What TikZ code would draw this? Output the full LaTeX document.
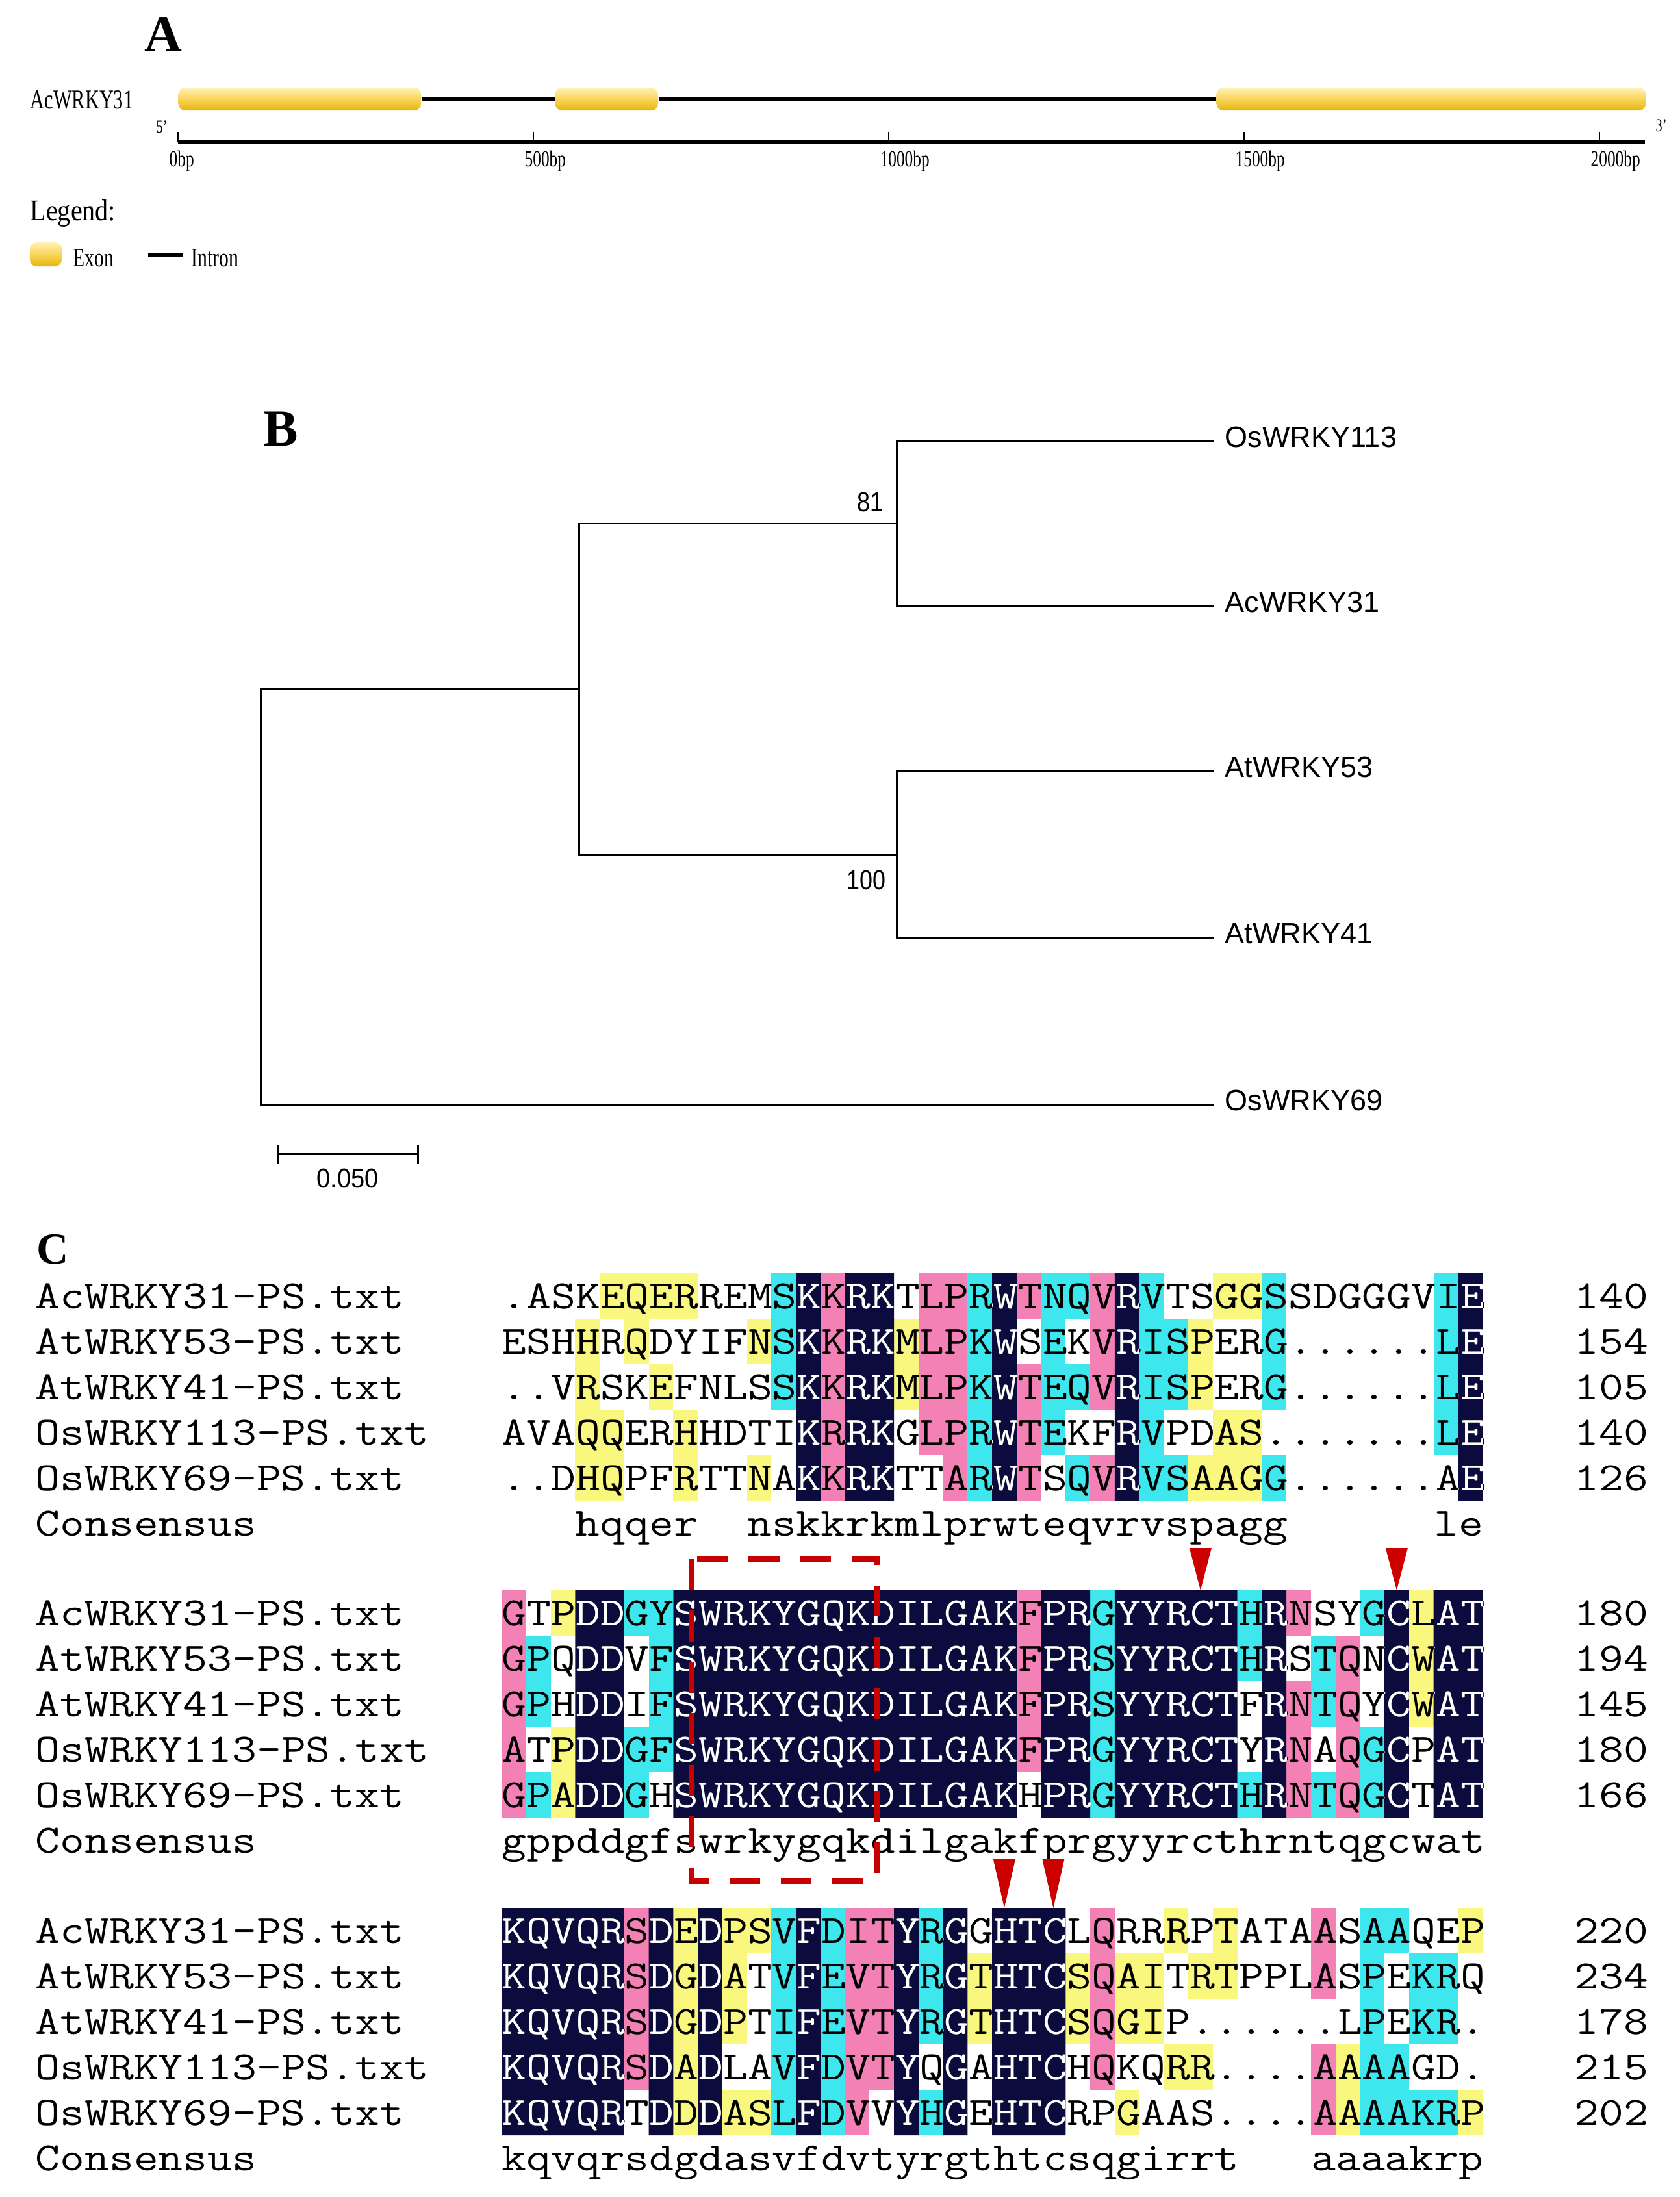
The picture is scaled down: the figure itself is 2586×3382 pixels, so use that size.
\documentclass[tikz,border=0pt]{standalone}
\usepackage{fontspec}
\setmainfont{Liberation Serif}
\setsansfont{Liberation Sans}
\usepackage{graphicx}
\usetikzlibrary{positioning}

\definecolor{navyc}{HTML}{0B0B3D}
\definecolor{pinkc}{HTML}{F481B6}
\definecolor{cyanc}{HTML}{3EE6EE}
\definecolor{yellowc}{HTML}{F9F77E}
\definecolor{exonhi}{HTML}{FFF1B8}
\definecolor{exonmid}{HTML}{FAD55A}
\definecolor{exonlo}{HTML}{E8B40C}
\definecolor{boxred}{HTML}{C80000}

\newcommand{\squeeze}[2][0.72]{\scalebox{#1}[1]{#2}}
\newcommand{\seqtext}[1]{\scalebox{1.187}[1]{#1}}
\newcommand{\cells}[2]{%
  \foreach \ca/\cb/\ra/\rb in {#2}
    \fill[#1] ({772+37.75*\ca},{\btop+70*\ra}) rectangle ({772+37.75*(\cb+1)},{\btop+70*(\rb+1)});}
\newcommand{\navyfill}[1]{%
  \fill[navyc] \foreach \ca/\cb in {#1} {({772+37.75*\ca},\btop) rectangle ({772+37.75*(\cb+1)},{\btop+350})};}
\newcommand{\navyclip}[1]{%
  \clip \foreach \ca/\cb in {#1} {({772+37.75*\ca},\btop) rectangle ({772+37.75*(\cb+1)},{\btop+350})};}
\newcommand{\seqrows}[2]{%
  \foreach \s [count=\k from 0] in {\rowa,\rowb,\rowc,\rowd,\rowe}
    \node[seq, text=#2] (#1\k) at (772,{\btop+54+70*\k}) {\seqtext{\s}};}
\newcommand{\rowlabels}[1]{%
  \foreach \n [count=\k from 0] in {AcWRKY31-PS.txt,AtWRKY53-PS.txt,AtWRKY41-PS.txt,OsWRKY113-PS.txt,OsWRKY69-PS.txt,Consensus}
    \node[seq] (#1\k) at (54,{\btop+54+70*\k}) {\seqtext{\n}};}

\begin{document}
\begin{tikzpicture}[x=0.01cm, y=-0.01cm,
  seq/.style={anchor=base west, inner sep=0pt, font=\fontsize{17.6}{20}\selectfont\ttfamily},
  panel/.style={anchor=base west, inner sep=0pt, font=\fontsize{22.8}{24}\selectfont\bfseries},
  glab/.style={anchor=base west, inner sep=0pt, font=\fontsize{10}{12}\selectfont},
  exon/.style={inner sep=0pt, minimum height=0.35cm, rounded corners=0.1cm, top color=exonhi, bottom color=exonlo, middle color=exonmid},
  intron/.style={line width=1.7pt},
  tickmark/.style={line width=0.7pt},
  branch/.style={line width=0.85pt},
  leaf/.style={anchor=base west, inner sep=0pt, font=\sffamily\fontsize{12.8}{14}\selectfont},
  boot/.style={anchor=base east, inner sep=0pt, font=\sffamily\fontsize{12}{14}\selectfont},
  redbox/.style={draw=boxred, line width=2.56pt, dash pattern=on 13.5pt off 9pt},
  marker/.style={fill=boxred!90!red}]
\path[fill=white, use as bounding box] (0,0) rectangle (2586,3382);

% A: gene structure
\node[panel] (labA) at (222,80) {A};
\node[glab, font=\fontsize{12}{14}\selectfont] (gene) at (46,168) {\squeeze{AcWRKY31}};
\node[exon, minimum width=3.73cm, anchor=west] (ex1) at (274,152.5) {};
\node[exon, minimum width=1.58cm, anchor=west] (ex2) at (854,152.5) {};
\node[exon, minimum width=6.60cm, anchor=west] (ex3) at (1872,152.5) {};
\draw[intron] (ex1.east) -- (ex2.west);
\draw[intron] (ex2.east) -- (ex3.west);
\node[glab, font=\fontsize{8}{10}\selectfont] (five) at (240,205) {\squeeze{5'}};
\node[glab, font=\fontsize{8}{10}\selectfont] (three) at (2548,203) {\squeeze{3'}};
\coordinate (ax0) at (274,218);
\coordinate (ax1) at (2532,218);
\draw[intron] (ax0) -- (ax1);
\foreach \t/\lab in {0/0bp,1/500bp,2/1000bp,3/1500bp,4/2000bp}{
  \draw[tickmark] ({274+547*\t},218) -- ++(0,-15);
  \node[glab] (tk\t) at ({260+547*\t},257) {\squeeze{\lab}};
}
\node[glab, font=\fontsize{13.1}{15}\selectfont] (legend) at (46,340) {\squeeze[0.87]{Legend:}};
\node[exon, minimum width=0.49cm, minimum height=0.37cm] (legex) at (70.5,391.5) {};
\node[glab, font=\fontsize{11.7}{14}\selectfont] (exlab) at (112,410) {\squeeze{Exon}};
\coordinate (li0) at (228,392);
\coordinate (li1) at (282,392);
\draw[intron] (li0) -- (li1);
\node[glab, font=\fontsize{11.7}{14}\selectfont] (inlab) at (294,410) {\squeeze{Intron}};

% B: tree
\node[panel] (labB) at (405,686) {B};
\coordinate (tOs113) at (1868,679);
\coordinate (tAc31) at (1868,933);
\coordinate (tAt53) at (1868,1187);
\coordinate (tAt41) at (1868,1443);
\coordinate (tOs69) at (1868,1700);
\coordinate (n81) at (1380,806);
\coordinate (n100) at (1380,1315);
\coordinate (n2) at (891,1060);
\coordinate (root) at (401,1380);
\draw[branch] (tOs113) -| (n81) |- (tAc31);
\draw[branch] (tAt53) -| (n100) |- (tAt41);
\draw[branch] (n81) -| (n2) |- (n100);
\draw[branch] (n2) -| (root) |- (tOs69);
\node[leaf] (lOs113) at (1885,688) {OsWRKY113};
\node[leaf] (lAc31) at (1885,942) {AcWRKY31};
\node[leaf] (lAt53) at (1885,1196) {AtWRKY53};
\node[leaf] (lAt41) at (1885,1452) {AtWRKY41};
\node[leaf] (lOs69) at (1885,1709) {OsWRKY69};
\node[boot] (bs81) at (1360,787) {\squeeze[0.85]{81}};
\node[boot] (bs100) at (1364,1369) {\squeeze[0.85]{100}};
\coordinate (sb0) at (427,1776);
\coordinate (sb1) at (643,1776);
\draw[branch] (sb0) -- (sb1);
\draw[branch] (427,1762) -- (427,1792);
\draw[branch] (643,1762) -- (643,1792);
\node[boot, anchor=base] (sblab) at (535,1828) {\squeeze[0.9]{0.050}};

% C: alignment
\node[panel, font=\fontsize{19.4}{22}\selectfont\bfseries] (labC) at (56,1945) {C};

\def\btop{1960}
\def\rowa{.ASKEQERREMSKKRKTLPRWTNQVRVTSGGSSDGGGVIE}
\def\rowb{ESHHRQDYIFNSKKRKMLPKWSEKVRISPERG......LE}
\def\rowc{..VRSKEFNLSSKKRKMLPKWTEQVRISPERG......LE}
\def\rowd{AVAQQERHHDTIKRRKGLPRWTEKFRVPDAS.......LE}
\def\rowe{..DHQPFRTTNAKKRKTTARWTSQVRVSAAGG......AE}
\cells{pinkc}{13/13/0/4,17/17/0/3,18/18/0/4,21/21/0/0,21/21/2/4,24/24/0/2,24/24/4/4}
\cells{cyanc}{11/11/0/2,19/19/0/4,22/22/0/3,23/23/0/0,23/23/2/2,23/23/4/4,26/26/0/4,27/27/1/2,27/27/4/4,31/31/0/2,31/31/4/4,38/38/0/3}
\cells{yellowc}{3/3/1/4,4/4/0/0,4/4/3/4,5/5/0/1,6/6/0/0,6/6/2/2,7/7/0/0,7/7/3/4,10/10/1/1,10/10/4/4,16/16/1/2,28/28/1/2,28/28/4/4,29/30/0/0,29/30/3/4}
\navyfill{12/12,14/15,20/20,25/25,39/39}
\seqrows{sa}{black}
\begin{scope}
  \navyclip{12/12,14/15,20/20,25/25,39/39}
  \seqrows{wa}{white}
\end{scope}
\rowlabels{na}
\foreach \v [count=\k from 0] in {140,154,105,140,126}
  \node[seq, anchor=base east] (ma\k) at (2538,{\btop+54+70*\k}) {\seqtext{\v}};
\foreach \c/\t in {3/hqqer,10/nskkrkmlprwteqvrvspagg,38/le}
  \node[seq] (ca\c) at ({772+37.75*\c},{\btop+404}) {\seqtext{\t}};

\def\btop{2448}
\def\rowa{GTPDDGYSWRKYGQKDILGAKFPRGYYRCTHRNSYGCLAT}
\def\rowb{GPQDDVFSWRKYGQKDILGAKFPRSYYRCTHRSTQNCWAT}
\def\rowc{GPHDDIFSWRKYGQKDILGAKFPRSYYRCTFRNTQYCWAT}
\def\rowd{ATPDDGFSWRKYGQKDILGAKFPRGYYRCTYRNAQGCPAT}
\def\rowe{GPADDGHSWRKYGQKDILGAKHPRGYYRCTHRNTQGCTAT}
\cells{pinkc}{0/0/0/4,21/21/0/3,32/32/0/0,32/32/2/4,34/34/1/4}
\cells{cyanc}{1/1/1/2,1/1/4/4,5/5/0/0,5/5/3/4,6/6/0/3,24/24/0/4,30/30/0/1,30/30/4/4,33/33/1/2,33/33/4/4,35/35/0/0,35/35/3/4}
\cells{yellowc}{2/2/0/0,2/2/3/4,37/37/0/2}
\navyfill{3/4,7/20,22/23,25/29,31/31,36/36,38/39}
\seqrows{sb}{black}
\begin{scope}
  \navyclip{3/4,7/20,22/23,25/29,31/31,36/36,38/39}
  \seqrows{wb}{white}
\end{scope}
\rowlabels{nb}
\foreach \v [count=\k from 0] in {180,194,145,180,166}
  \node[seq, anchor=base east] (mb\k) at (2538,{\btop+54+70*\k}) {\seqtext{\v}};
\node[seq] (cb0) at (772,{\btop+404}) {\seqtext{gppddgfswrkygqkdilgakfprgyyrcthrntqgcwat}};
\foreach \c in {28,36}
  \fill[marker] ({772+37.75*(\c+0.5)-17},2383) -- ({772+37.75*(\c+0.5)+17},2383) -- ({772+37.75*(\c+0.5)},2448) -- cycle;

\def\btop{2937}
\def\rowa{KQVQRSDEDPSVFDITYRGGHTCLQRRRPTATAASAAQEP}
\def\rowb{KQVQRSDGDATVFEVTYRGTHTCSQAITRTPPLASPEKRQ}
\def\rowc{KQVQRSDGDPTIFEVTYRGTHTCSQGIP......LPEKR.}
\def\rowd{KQVQRSDADLAVFDVTYQGAHTCHQKQRR....AAAAGD.}
\def\rowe{KQVQRTDDDASLFDVVYHGEHTCRPGAAS....AAAAKRP}
\cells{pinkc}{5/5/0/3,14/14/0/4,15/15/0/3,24/24/0/3,33/33/0/1,33/33/3/4}
\cells{cyanc}{11/11/0/4,13/13/0/4,17/17/0/2,17/17/4/4,35/35/0/4,36/36/0/0,36/36/3/4,37/38/1/2,37/38/4/4}
\cells{yellowc}{7/7/0/4,9/9/0/2,9/9/4/4,10/10/0/0,10/10/4/4,19/19/1/2,23/23/1/2,25/26/1/2,25/25/4/4,27/27/0/0,27/28/3/3,28/28/1/1,29/29/0/1,34/34/3/4,39/39/0/0,39/39/4/4}
\navyfill{0/4,6/6,8/8,12/12,16/16,18/18,20/22}
\seqrows{sc}{black}
\begin{scope}
  \navyclip{0/4,6/6,8/8,12/12,16/16,18/18,20/22}
  \seqrows{wc}{white}
\end{scope}
\rowlabels{nc}
\foreach \v [count=\k from 0] in {220,234,178,215,202}
  \node[seq, anchor=base east] (mc\k) at (2538,{\btop+54+70*\k}) {\seqtext{\v}};
\foreach \c/\t in {0/kqvqrsdgdasvfdvtyrgthtcsqgirrt,33/aaaakrp}
  \node[seq] (cc\c) at ({772+37.75*\c},{\btop+404}) {\seqtext{\t}};
\foreach \c in {20,22}
  \fill[marker] ({772+37.75*(\c+0.5)-17},2862) -- ({772+37.75*(\c+0.5)+17},2862) -- ({772+37.75*(\c+0.5)},2937) -- cycle;

\draw[redbox] (1064,2400) rectangle (1349,2895);
\end{tikzpicture}
\end{document}
